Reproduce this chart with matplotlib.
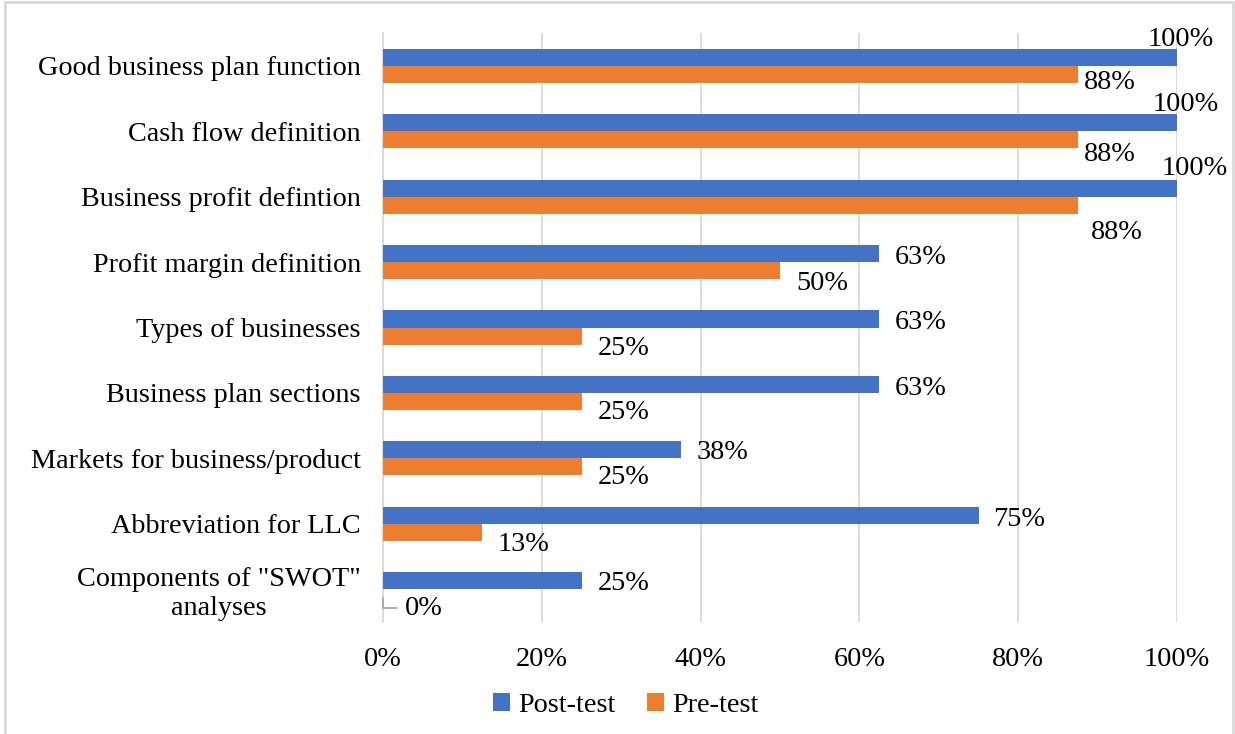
import matplotlib
matplotlib.use("Agg")
import matplotlib.pyplot as plt
from matplotlib.patches import Rectangle
import numpy as np

categories = [
    "Good business plan function",
    "Cash flow definition",
    "Business profit defintion",
    "Profit margin definition",
    "Types of businesses",
    "Business plan sections",
    "Markets for business/product",
    "Abbreviation for LLC",
    'Components of "SWOT"\nanalyses',
]
post_test = [100, 100, 100, 62.5, 62.5, 62.5, 37.5, 75, 25]
pre_test = [87.5, 87.5, 87.5, 50, 25, 25, 25, 12.5, 0]
x_ticks = [0, 20, 40, 60, 80, 100]
x_tick_labels = ["0%", "20%", "40%", "60%", "80%", "100%"]
series_names = ["Post-test", "Pre-test"]

# label offsets in pixels (dx, dy down) from bar end
post_off = [(-29, -18), (-24, -18), (-15, -20), (16, 4), (16, 4), (16, 4), (16, 3), (15, 4), (16, 3)]
pre_off = [(6, 8), (6, 15), (13, 27), (16, 13), (16, 12), (16, 11), (16, 11), (15, 12), (22, 11)]

BLUE = "#4472C4"
ORANGE = "#ED7D31"
GRID = "#D9D9D9"
FONT = ["Liberation Serif", "DejaVu Serif"]
FS = 20.3

plt.rcParams["font.family"] = FONT

fig = plt.figure(figsize=(12.35, 7.34), dpi=100)
ax = fig.add_axes([383 / 1235, 1 - 622 / 734, 794 / 1235, 589 / 734])

y = np.arange(len(categories))
h = 0.26
ax.barh(y - h / 2, post_test, height=h, color=BLUE, label=series_names[0], zorder=3)
ax.barh(y + h / 2, pre_test, height=h, color=ORANGE, label=series_names[1], zorder=3)

ax.set_xlim(0, 100)
ax.set_ylim(len(categories) - 0.5, -0.5)
ax.set_xticks(x_ticks)
ax.set_xticklabels(x_tick_labels, fontsize=FS)
ax.set_yticks(y)
ax.set_yticklabels(categories, fontsize=FS, multialignment="center")
ax.tick_params(axis="x", length=0, pad=18)
ax.tick_params(axis="y", length=0, pad=16)
for lbl in ax.get_yticklabels():
    lbl.set_y(lbl.get_position()[1])
ax.grid(axis="x", color=GRID, linewidth=1.3, zorder=0)
for s in ["top", "right", "bottom"]:
    ax.spines[s].set_visible(False)
ax.spines["left"].set_color(GRID)
ax.spines["left"].set_linewidth(1.3)

for i in range(len(categories)):
    v = post_test[i]
    dx, dy = post_off[i]
    ax.annotate(f"{int(v + 0.5)}%", xy=(v, y[i] - h / 2), xytext=(dx, -dy),
                textcoords="offset pixels", ha="left", va="center", fontsize=FS)
    v = pre_test[i]
    dx, dy = pre_off[i]
    ax.annotate(f"{int(v + 0.5)}%", xy=(v, y[i] + h / 2), xytext=(dx, -dy),
                textcoords="offset pixels", ha="left", va="center", fontsize=FS)
    if v == 0:
        # leader line: down from bar, then right toward label
        ax.annotate("", xy=(v, y[i] + h / 2), xytext=(dx - 8, -dy + 1),
                    textcoords="offset pixels",
                    arrowprops=dict(arrowstyle="-", color="#A6A6A6", lw=1.3,
                                    shrinkA=0, shrinkB=0,
                                    connectionstyle="angle,angleA=0,angleB=90,rad=0"))

fig.legend(loc="center", bbox_to_anchor=(626 / 1235, 1 - 705 / 734), ncol=2,
           frameon=False, fontsize=FS, handlelength=0.6, handleheight=0.6,
           handletextpad=0.3, columnspacing=1.1)

fig.patches.append(Rectangle((5 / 1235, -0.01), 1228 / 1235, 1 - 2 / 734 + 0.01,
                             transform=fig.transFigure, fill=False,
                             edgecolor=GRID, linewidth=2))

fig.savefig("out.png", dpi=100, facecolor="white")
